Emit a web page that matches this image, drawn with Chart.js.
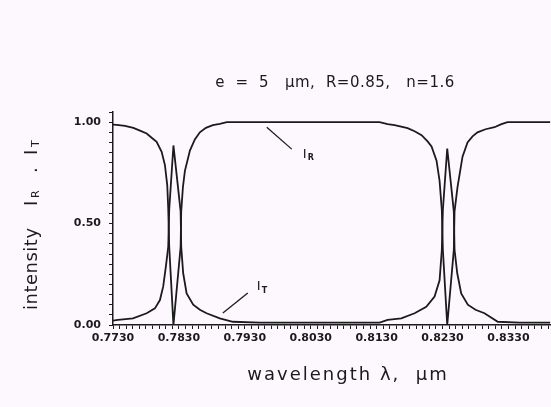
<!DOCTYPE html>
<html><head><meta charset="utf-8">
<script src="https://cdn.jsdelivr.net/npm/chart.js@4.4.1/dist/chart.umd.min.js"></script>
<style>html,body{margin:0;padding:0;background:#fdf8fd;}#wrap{width:551px;height:407px;}canvas{display:block}</style>
</head><body><div id="wrap"><canvas id="c" width="551" height="407"></canvas></div>
<script>
const titleText = 'e  =  5   μm,  R=0.85,   n=1.6';
const xAxisTitle = 'wavelength λ,  μm';
const yAxisTitle = 'intensity';
const xTickLabels = ['0.7730','0.7830','0.7930','0.8030','0.8130','0.8230','0.8330'];
const yTickLabels = ['0.00','0.50','1.00'];
const seriesNames = ['IR','IT'];

const lambdaR = [0.77300,0.77356,0.77482,0.77608,0.77709,0.77811,0.77891,0.77962,0.78038,0.78088,0.78123,0.78138,0.78153,0.78217,0.78326,0.78335,0.78361,0.78391,0.78467,0.78542,0.78618,0.78709,0.78815,0.78921,0.79027,0.81345,0.81467,0.81573,0.81770,0.81876,0.81982,0.82073,0.82133,0.82209,0.82255,0.82289,0.82305,0.82371,0.82471,0.82482,0.82527,0.82603,0.82679,0.82755,0.82830,0.82952,0.83088,0.83194,0.83285,0.83936];
const IR = [0.988,0.987,0.982,0.972,0.958,0.944,0.922,0.903,0.854,0.788,0.69,0.575,0.385,0.0,0.385,0.56,0.68,0.76,0.86,0.915,0.95,0.972,0.985,0.992,1.0,1.0,0.99,0.985,0.97,0.955,0.936,0.905,0.88,0.81,0.71,0.567,0.37,0.0,0.37,0.56,0.68,0.83,0.9,0.93,0.95,0.965,0.975,0.99,1.0,1.0];

const lambdaT = [0.77300,0.77376,0.77603,0.77811,0.77936,0.78012,0.78062,0.78103,0.78138,0.78153,0.78217,0.78326,0.78335,0.78365,0.78417,0.78517,0.78618,0.78720,0.78921,0.79118,0.79527,0.81345,0.81467,0.81674,0.81876,0.82053,0.82179,0.82255,0.82289,0.82305,0.82371,0.82471,0.82482,0.82523,0.82583,0.82683,0.82800,0.82936,0.83138,0.83467,0.83936];
const IT = [0.022,0.025,0.033,0.058,0.082,0.123,0.19,0.29,0.385,0.57,0.885,0.56,0.385,0.255,0.156,0.1,0.075,0.058,0.033,0.016,0.012,0.012,0.025,0.033,0.058,0.09,0.14,0.22,0.37,0.567,0.87,0.56,0.37,0.255,0.156,0.1,0.075,0.058,0.016,0.012,0.012];

// curve labels with leader lines, in data coordinates
const labelR = {main:'I', sub:'R', at:[0.80179,0.842], from:[0.79633,0.975], to:[0.80012,0.867]};
const labelT = {main:'I', sub:'T', at:[0.79482,0.187], from:[0.78967,0.059], to:[0.79345,0.158]};

const X_MIN = 0.7730, X_MAX = 0.83936, X_MINOR = 0.001;
const Y_MIN = 0, Y_MAX = 1.05, Y_MINOR = 0.05;
const INK = '#1b1b1b';
const FONT = '"DejaVu Sans", sans-serif';

const toPts = (xs, ys) => xs.map((x, i) => ({x, y: ys[i]}));

const textPlugin = {
  id: 'texts',
  afterDraw(chart) {
    const ctx = chart.ctx, xs = chart.scales.x, ys = chart.scales.y;
    ctx.save();
    ctx.fillStyle = INK; ctx.strokeStyle = INK;
    ctx.textBaseline = 'middle';
    // title
    ctx.font = '15px ' + FONT; ctx.textAlign = 'center';
    ctx.letterSpacing = '0.5px';
    ctx.fillText(titleText, 335, 83);
    // x title
    ctx.font = '18px ' + FONT;
    ctx.letterSpacing = '2px';
    ctx.fillText(xAxisTitle, 348, 375);
    // y title (rotated)
    ctx.save();
    ctx.translate(32, 310); ctx.rotate(-Math.PI/2);
    ctx.textAlign = 'left';
    ctx.letterSpacing = '0.5px';
    ctx.font = '18px ' + FONT;
    ctx.fillText(yAxisTitle, 0, 0);
    ctx.fillText('I', 104, 0);
    ctx.font = '11px ' + FONT; ctx.fillText('R', 112, 4);
    ctx.font = '18px ' + FONT; ctx.fillText('.', 137, 0);
    ctx.fillText('I', 155, 0);
    ctx.font = '11px ' + FONT; ctx.fillText('T', 163, 4);
    ctx.restore();
    ctx.letterSpacing = '0px';
    // curve labels
    ctx.lineWidth = 1.3; ctx.textAlign = 'left';
    [labelR, labelT].forEach(l => {
      ctx.beginPath();
      ctx.moveTo(xs.getPixelForValue(l.from[0]), ys.getPixelForValue(l.from[1]));
      ctx.lineTo(xs.getPixelForValue(l.to[0]), ys.getPixelForValue(l.to[1]));
      ctx.stroke();
      const px = xs.getPixelForValue(l.at[0]), py = ys.getPixelForValue(l.at[1]);
      ctx.font = '13px ' + FONT; ctx.fillText(l.main, px, py);
      ctx.font = 'bold 8px ' + FONT; ctx.fillText(l.sub, px + 5, py + 4);
    });
    ctx.restore();
  }
};

new Chart(document.getElementById('c'), {
  type: 'line',
  data: {
    datasets: [
      {label: seriesNames[0], data: toPts(lambdaR, IR), borderColor: INK, borderWidth: 1.8, pointRadius: 0, tension: 0, fill: false},
      {label: seriesNames[1], data: toPts(lambdaT, IT), borderColor: INK, borderWidth: 1.8, pointRadius: 0, tension: 0, fill: false}
    ]
  },
  options: {
    responsive: false, animation: false, devicePixelRatio: 1,
    layout: {padding: {top: 112, left: 0, right: 0, bottom: 0}},
    plugins: {legend: {display: false}, tooltip: {enabled: false}, title: {display: false}},
    scales: {
      x: {
        type: 'linear', min: X_MIN, max: X_MAX,
        afterBuildTicks: s => {
          const t = []; const n = Math.round((X_MAX - X_MIN) / X_MINOR);
          for (let i = 0; i <= n; i++) t.push({value: +(X_MIN + i * X_MINOR).toFixed(4)});
          s.ticks = t;
        },
        afterFit: s => { s.height = 82; },
        ticks: {autoSkip: false, maxRotation: 0, minRotation: 0, padding: 3, color: INK,
          font: {family: FONT, size: 11, weight: 'bold'},
          callback: v => { const s = (+v).toFixed(4); return xTickLabels.includes(s) ? s : ''; }},
        grid: {drawOnChartArea: false, drawTicks: true, tickLength: 4, color: INK, lineWidth: 1},
        border: {color: INK, width: 1.5}
      },
      y: {
        type: 'linear', min: Y_MIN, max: Y_MAX,
        afterBuildTicks: s => {
          const t = []; const n = Math.round((Y_MAX - Y_MIN) / Y_MINOR);
          for (let i = 0; i <= n; i++) t.push({value: +(Y_MIN + i * Y_MINOR).toFixed(2)});
          s.ticks = t;
        },
        afterFit: s => { s.width = 113; },
        ticks: {autoSkip: false, padding: 8, color: INK,
          font: {family: FONT, size: 11, weight: 'bold'},
          callback: v => { const s = (+v).toFixed(2); return yTickLabels.includes(s) ? s : ''; }},
        grid: {drawOnChartArea: false, drawTicks: true, tickLength: 4, color: INK, lineWidth: 1},
        border: {color: INK, width: 1.5}
      }
    }
  },
  plugins: [textPlugin]
});
</script></body></html>
